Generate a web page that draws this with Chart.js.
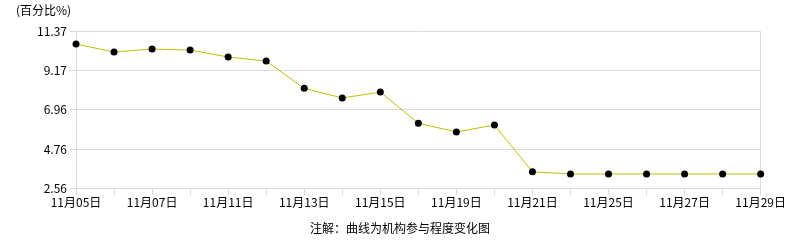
<!DOCTYPE html>
<html>
<head>
<meta charset="utf-8">
<script src="https://cdn.jsdelivr.net/npm/chart.js@4"></script>
<style>
  html, body { margin: 0; padding: 0; background: #fff; }
  #wrap { width: 786px; height: 240px; }
</style>
</head>
<body>
<div id="wrap"><canvas id="trendChart" width="786" height="240"></canvas></div>
<script>
// data
const days = ['11月05日', '11月06日', '11月07日', '11月08日', '11月11日', '11月12日', '11月13日',
  '11月14日', '11月15日', '11月18日', '11月19日', '11月20日', '11月21日', '11月22日',
  '11月25日', '11月26日', '11月27日', '11月28日', '11月29日'];
const participation = [10.66, 10.21, 10.38, 10.32, 9.93, 9.70, 8.17, 7.63, 7.96, 6.21, 5.72, 6.11,
  3.48, 3.36, 3.36, 3.36, 3.36, 3.36, 3.36];
const yTicks = [2.56, 4.76, 6.96, 9.17, 11.37];

const font = "'Noto Sans CJK SC', 'DejaVu Sans', sans-serif";
const lastIdx = days.length - 1;

document.addEventListener('DOMContentLoaded', function() {
    const ctx = document.getElementById('trendChart').getContext('2d');
    new Chart(ctx, {
        type: 'line',
        data: {
            labels: days,
            datasets: [{
                data: participation,
                borderColor: '#bfbf00',
                borderWidth: 1,
                pointRadius: 3.5,
                pointBackgroundColor: '#000',
                pointBorderColor: '#000',
                pointBorderWidth: 0,
                tension: 0
            }]
        },
        options: {
            responsive: false,
            animation: false,
            layout: { padding: { left: 16, right: 2, top: 0, bottom: 4 } },
            plugins: {
                legend: { display: false },
                tooltip: { enabled: false },
                title: {
                    display: true,
                    text: '(百分比%)',
                    align: 'start',
                    color: '#000',
                    font: { family: font, size: 12, weight: 'normal' },
                    padding: { top: 3, bottom: 14 }
                },
                subtitle: {
                    display: true,
                    position: 'bottom',
                    text: '注解：曲线为机构参与程度变化图',
                    color: '#000',
                    font: { family: font, size: 12, weight: 'normal' },
                    padding: { top: 12, bottom: 0 }
                }
            },
            scales: {
                x: {
                    offset: false,
                    border: { color: '#dcdcdc' },
                    grid: {
                        color: c => (c.index === 0 || c.index === lastIdx) ? '#dcdcdc' : 'rgba(0,0,0,0)',
                        tickColor: '#dcdcdc',
                        tickLength: 7
                    },
                    ticks: {
                        autoSkip: false,
                        maxRotation: 0,
                        color: '#000',
                        padding: 0,
                        font: { family: font, size: 12 },
                        callback: (v, i) => i % 2 === 0 ? days[i] : ''
                    }
                },
                y: {
                    min: yTicks[0],
                    max: yTicks[yTicks.length - 1],
                    afterBuildTicks: axis => { axis.ticks = yTicks.map(v => ({ value: v })); },
                    afterFit: axis => { axis.width = 60; },
                    border: { color: '#dcdcdc' },
                    grid: { color: '#dcdcdc', tickLength: 6 },
                    ticks: {
                        color: '#000',
                        padding: 3,
                        font: { family: font, size: 12 },
                        callback: v => v.toFixed(2)
                    }
                }
            }
        }
    });
});
</script>
</body>
</html>
